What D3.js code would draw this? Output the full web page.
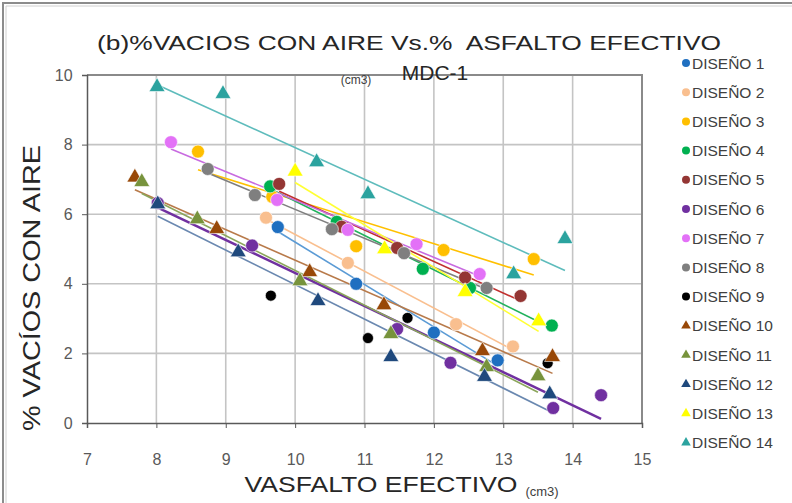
<html>
<head>
<style>
  body { margin: 0; background: #fff; }
  text { font-family: "Liberation Sans", Arial, sans-serif; }
</style>
</head>
<body>
<svg id="chart" width="792" height="503"></svg>
<script src="https://cdn.jsdelivr.net/npm/d3@7"></script>
<script>
// series names, marker shapes and colours
const names = ["DISEÑO 1", "DISEÑO 2", "DISEÑO 3", "DISEÑO 4", "DISEÑO 5", "DISEÑO 6", "DISEÑO 7",
               "DISEÑO 8", "DISEÑO 9", "DISEÑO 10", "DISEÑO 11", "DISEÑO 12", "DISEÑO 13", "DISEÑO 14"]
const shapes = ["c", "c", "c", "c", "c", "c", "c", "c", "c", "t", "t", "t", "t", "t"]
const colors = ["#1f6fc0", "#f9bf8f", "#ffbf00", "#00b050", "#943634", "#7030a0", "#e371f7",
                "#7f7f7f", "#000000", "#984807", "#77933c", "#1f497d", "#ffff00", "#2ba39f"]
const lineColors = ["#5b9bd5", "#f9bf8f", "#ffc000", "#22b25c", "#c0302e", "#7030a0", "#c86be0",
                    "#7f7f7f", null, "#b87a4a", "#8aa55a", "#6a88b0", "#ffff33", "#5ebcbc"]

// x values (asfalto efectivo) and y values (% vacios) per series
const xs = [
  [9.75, 10.88, 12.0, 12.92],
  [9.58, 10.76, 12.32, 13.14],
  [8.6, 9.67, 10.88, 12.14, 13.44],
  [9.64, 10.6, 11.84, 12.52, 13.7],
  [9.77, 10.67, 11.47, 12.45, 13.25],
  [8.02, 9.38, 11.47, 12.24, 13.72, 14.41],
  [8.21, 9.74, 10.76, 11.75, 12.66],
  [8.74, 9.42, 10.53, 11.57, 12.76],
  [9.65, 11.05, 11.62, 13.64],
  [7.69, 8.87, 10.21, 11.28, 12.7, 13.71],
  [7.79, 8.59, 10.07, 11.38, 12.76, 13.5],
  [8.02, 9.18, 10.33, 11.38, 12.73, 13.67],
  [10.0, 11.29, 12.45, 13.51],
  [8.01, 8.96, 10.31, 11.05, 13.15, 13.89]
]
const ys = [
  [5.63, 4.0, 2.6, 1.8],
  [5.9, 4.6, 2.84, 2.2],
  [7.8, 6.5, 5.08, 4.97, 4.71],
  [6.8, 5.78, 4.43, 3.88, 2.8],
  [6.87, 5.64, 5.03, 4.18, 3.65],
  [6.32, 5.1, 2.7, 1.73, 0.43, 0.8],
  [8.07, 6.41, 5.55, 5.14, 4.28],
  [7.3, 6.55, 5.57, 4.88, 3.88],
  [3.66, 2.44, 3.02, 1.72],
  [7.03, 5.55, 4.31, 3.36, 2.04, 1.87],
  [6.9, 5.83, 4.05, 2.53, 1.58, 1.32],
  [6.26, 4.88, 3.48, 1.87, 1.3, 0.8],
  [7.2, 4.97, 3.74, 2.9],
  [9.63, 9.43, 7.47, 6.55, 4.25, 5.26]
]
const xTicks = [7, 8, 9, 10, 11, 12, 13, 14, 15]
const yTicks = [0, 2, 4, 6, 8, 10]

let svg = d3.select("#chart")

let x = d3.scaleLinear().domain([7, 15]).range([87, 642])
let y = d3.scaleLinear().domain([0, 10]).range([423, 75])

// outer frame (only left / top visible in the picture)
svg.append("path").attr("d", "M3,503 V3 H792").attr("fill", "none")
    .attr("stroke", "#8c8c8c").attr("stroke-width", 2)
svg.append("path").attr("d", "M6,503 V6 H792").attr("fill", "none")
    .attr("stroke", "#d0d0d0").attr("stroke-width", 1)

// grid
svg.append("g").selectAll("line").data(xTicks.slice(1, -1)).enter().append("line")
    .attr("x1", d => x(d)).attr("x2", d => x(d)).attr("y1", y(10)).attr("y2", y(0))
    .attr("stroke", "#c4c4c4").attr("stroke-width", 1.6)
svg.append("g").selectAll("line").data(yTicks.slice(1, -1)).enter().append("line")
    .attr("x1", x(7)).attr("x2", x(15)).attr("y1", d => y(d)).attr("y2", d => y(d))
    .attr("stroke", "#c4c4c4").attr("stroke-width", 1.6)

// plot border top/right
svg.append("path").attr("d", `M${x(7)},${y(10)} H${x(15)} V${y(0)}`)
    .attr("fill", "none").attr("stroke", "#8a8a8a").attr("stroke-width", 2)

// axes
let xAxis = svg.append("g").attr("transform", `translate(0,${y(0)})`)
    .call(d3.axisBottom(x).tickValues(xTicks).tickSize(5).tickFormat(d3.format("d")))
let yAxis = svg.append("g").attr("transform", `translate(${x(7)},0)`)
    .call(d3.axisLeft(y).tickValues(yTicks).tickSize(5).tickFormat(d3.format("d")))
for (let a of [xAxis, yAxis]) {
    a.select(".domain").attr("stroke", "#595959").attr("stroke-width", 1.5)
    a.selectAll(".tick line").attr("stroke", "#595959")
    a.selectAll("text").attr("font-size", 16).attr("fill", "#595959")
        .attr("font-family", "Liberation Sans, Arial, sans-serif")
}
xAxis.selectAll("text").attr("y", 31)
yAxis.selectAll("text").attr("dx", "-0.4em")

// trend lines (least squares, from min x to max x of each series)
let plot = svg.append("g")
names.forEach((n, i) => {
    if (!lineColors[i]) return
    let px = xs[i], py = ys[i]
    let mx = d3.mean(px), my = d3.mean(py)
    let sxy = d3.sum(px, (v, k) => (v - mx) * (py[k] - my))
    let sxx = d3.sum(px, v => (v - mx) * (v - mx))
    let b = sxy / sxx, a = my - b * mx
    let x0 = d3.min(px), x1 = d3.max(px)
    plot.append("line")
        .attr("x1", x(x0)).attr("y1", y(a + b * x0))
        .attr("x2", x(x1)).attr("y2", y(a + b * x1))
        .attr("stroke", lineColors[i])
        .attr("stroke-width", i == 5 ? 2.5 : 1.6)
})

// markers
let tri = d3.symbol().type(d3.symbolTriangle).size(110)
names.forEach((n, i) => {
    let pts = xs[i].map((v, k) => [v, ys[i][k]])
    let g = plot.append("g")
    if (shapes[i] == "c") {
        g.selectAll("circle").data(pts).enter().append("circle")
            .attr("cx", d => x(d[0])).attr("cy", d => y(d[1]))
            .attr("r", i == 8 ? 5.5 : 6.5)
            .attr("fill", colors[i]).attr("stroke", "#ffffff").attr("stroke-width", 0.6)
    } else {
        g.selectAll("path").data(pts).enter().append("path")
            .attr("d", tri)
            .attr("transform", d => `translate(${x(d[0])},${y(d[1]) - 1})`)
            .attr("fill", colors[i]).attr("stroke", "#ffffff").attr("stroke-width", 0.6)
    }
})

// titles
svg.append("text").attr("x", 409).attr("y", 50).attr("text-anchor", "middle")
    .attr("font-size", 21).attr("fill", "#262626").style("white-space", "pre")
    .attr("textLength", 624).attr("lengthAdjust", "spacingAndGlyphs")
    .text("(b)%VACIOS CON AIRE Vs.%  ASFALTO EFECTIVO")
svg.append("text").attr("x", 435).attr("y", 80).attr("text-anchor", "middle")
    .attr("font-size", 21).attr("fill", "#262626").text("MDC-1")
svg.append("text").attr("x", 356).attr("y", 84).attr("text-anchor", "middle")
    .attr("font-size", 12).attr("fill", "#404040").text("(cm3)")

svg.append("text").attr("x", 381).attr("y", 492).attr("text-anchor", "middle")
    .attr("font-size", 22).attr("fill", "#262626")
    .attr("textLength", 273).attr("lengthAdjust", "spacingAndGlyphs")
    .text("VASFALTO EFECTIVO")
svg.append("text").attr("x", 542).attr("y", 496).attr("text-anchor", "middle")
    .attr("font-size", 13).attr("fill", "#404040").text("(cm3)")

svg.append("text").attr("transform", "translate(40,288) rotate(-90)").attr("text-anchor", "middle")
    .attr("font-size", 23).attr("fill", "#262626")
    .attr("textLength", 286).attr("lengthAdjust", "spacingAndGlyphs")
    .text("% VACÍOS CON AIRE")

// legend
let legend = svg.append("g")
let small = d3.symbol().type(d3.symbolTriangle).size(40)
names.forEach((n, i) => {
    let ly = 63 + i * 29.2
    if (shapes[i] == "c") {
        legend.append("circle").attr("cx", 686).attr("cy", ly).attr("r", 4).attr("fill", colors[i])
    } else {
        legend.append("path").attr("d", small).attr("transform", `translate(686,${ly})`)
            .attr("fill", colors[i])
    }
    legend.append("text").attr("x", 692).attr("y", ly + 5.5)
        .attr("font-size", 15.5).attr("fill", "#404040").text(n)
})
</script>
</body>
</html>
